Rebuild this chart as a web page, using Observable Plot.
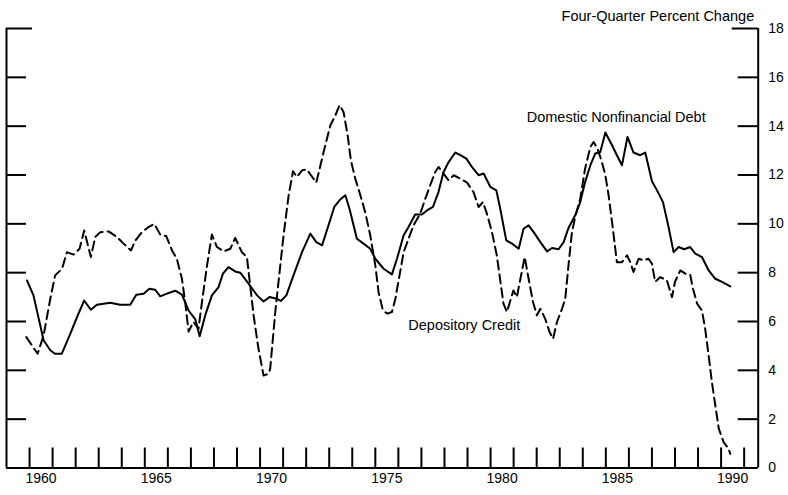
<!DOCTYPE html>
<html><head><meta charset="utf-8">
<script src="https://cdn.jsdelivr.net/npm/d3@7"></script>
<script src="https://cdn.jsdelivr.net/npm/@observablehq/plot@0.6"></script>
<style>html,body{margin:0;padding:0;background:#fff} svg{display:block}</style>
</head><body><div id="chart"></div>
<script>
// Domestic Nonfinancial Debt (solid) — four-quarter percent change
const debtYears = [1959.89,1960.17,1960.61,1960.90,1961.10,1961.40,1961.77,1962.06,1962.37,1962.66,1962.92,1963.50,1963.93,1964.37,1964.63,1964.95,1965.20,1965.45,1965.67,1965.96,1966.32,1966.61,1966.90,1967.19,1967.38,1967.62,1967.91,1968.20,1968.39,1968.63,1968.92,1969.14,1969.50,1969.87,1970.15,1970.41,1970.73,1970.90,1971.14,1971.45,1971.82,1972.18,1972.44,1972.69,1972.97,1973.22,1973.48,1973.70,1973.88,1974.20,1974.49,1974.78,1975.00,1975.36,1975.72,1975.94,1976.23,1976.44,1976.73,1977.02,1977.24,1977.50,1977.74,1977.96,1978.18,1978.47,1978.69,1978.95,1979.19,1979.48,1979.70,1979.99,1980.25,1980.42,1980.68,1980.93,1981.22,1981.43,1981.65,1981.87,1982.16,1982.45,1982.67,1982.95,1983.17,1983.38,1983.67,1983.89,1984.10,1984.33,1984.54,1984.76,1984.98,1985.27,1985.48,1985.70,1985.94,1986.20,1986.49,1986.71,1987.00,1987.22,1987.48,1987.72,1987.94,1988.16,1988.40,1988.66,1988.88,1989.17,1989.46,1989.75,1990.04,1990.40];
const debtValues = [7.68,7.07,5.23,4.82,4.68,4.68,5.50,6.18,6.86,6.48,6.69,6.77,6.69,6.69,7.10,7.14,7.34,7.30,7.03,7.14,7.26,7.10,6.45,6.09,5.40,6.25,7.07,7.41,7.96,8.23,8.05,8.00,7.55,7.07,6.82,7.00,6.93,6.84,7.07,7.89,8.84,9.60,9.25,9.12,9.94,10.69,11.00,11.17,10.62,9.39,9.19,8.98,8.57,8.16,7.93,8.57,9.53,9.87,10.38,10.38,10.55,10.69,11.30,12.12,12.53,12.92,12.81,12.67,12.33,11.99,12.06,11.51,11.37,10.62,9.32,9.19,8.98,9.80,9.94,9.66,9.25,8.87,9.01,8.96,9.25,9.83,10.35,10.89,11.71,12.40,12.88,12.94,13.74,13.22,12.81,12.40,13.56,12.92,12.81,12.92,11.74,11.37,10.89,9.87,8.84,9.05,8.96,9.05,8.78,8.64,8.09,7.75,7.62,7.44];

// Depository Credit (dashed)
const creditYears = [1959.86,1960.35,1960.61,1960.90,1961.11,1961.41,1961.62,1961.91,1962.17,1962.37,1962.66,1962.85,1963.07,1963.43,1963.79,1964.08,1964.40,1964.59,1964.88,1965.16,1965.41,1965.67,1965.93,1966.18,1966.39,1966.61,1966.75,1966.90,1967.11,1967.33,1967.48,1967.70,1967.91,1968.13,1968.42,1968.71,1968.92,1969.21,1969.43,1969.57,1969.72,1969.93,1970.15,1970.37,1970.44,1970.66,1970.80,1971.02,1971.24,1971.43,1971.60,1971.82,1972.03,1972.21,1972.44,1972.62,1972.83,1973.05,1973.27,1973.45,1973.62,1973.80,1973.94,1974.13,1974.35,1974.56,1974.78,1975.00,1975.14,1975.33,1975.53,1975.72,1975.87,1976.05,1976.23,1976.44,1976.66,1976.95,1977.17,1977.38,1977.60,1977.74,1977.96,1978.18,1978.40,1978.69,1978.98,1979.26,1979.48,1979.67,1979.84,1980.06,1980.27,1980.45,1980.56,1980.71,1980.88,1980.99,1981.14,1981.28,1981.48,1981.65,1981.84,1982.01,1982.16,1982.37,1982.56,1982.71,1982.88,1983.10,1983.24,1983.38,1983.53,1983.67,1983.89,1984.10,1984.33,1984.47,1984.64,1984.83,1984.98,1985.12,1985.27,1985.41,1985.48,1985.70,1985.92,1986.06,1986.20,1986.42,1986.64,1986.85,1987.00,1987.14,1987.36,1987.65,1987.87,1988.00,1988.23,1988.45,1988.66,1988.78,1988.96,1989.17,1989.31,1989.46,1989.60,1989.75,1989.90,1990.11,1990.32,1990.40];
const creditValues = [5.36,4.68,5.43,6.93,7.89,8.16,8.84,8.74,8.98,9.73,8.64,9.46,9.66,9.69,9.46,9.19,8.91,9.32,9.66,9.87,10.00,9.56,9.50,8.91,8.57,7.75,6.80,5.59,5.98,5.70,6.80,8.30,9.56,9.05,8.87,8.98,9.42,8.84,8.64,7.48,6.25,4.89,3.79,3.86,4.07,6.39,7.62,9.53,11.17,12.15,11.92,12.19,12.23,11.99,11.69,12.40,13.22,14.04,14.45,14.86,14.58,13.63,12.60,11.85,11.17,10.48,9.53,8.30,7.20,6.45,6.32,6.39,6.93,7.89,8.84,9.39,9.94,10.42,11.03,11.58,12.12,12.33,12.06,11.78,11.99,11.85,11.69,11.30,10.69,10.89,10.42,9.66,8.71,7.48,6.73,6.39,6.93,7.27,7.00,7.68,8.64,7.75,6.80,6.25,6.52,6.11,5.57,5.29,5.98,6.52,6.93,8.30,9.66,10.28,11.03,12.26,13.15,13.35,13.08,12.53,11.99,11.17,10.07,8.98,8.43,8.43,8.71,8.43,8.03,8.57,8.50,8.57,8.37,7.62,7.82,7.68,7.00,7.62,8.09,7.96,7.92,7.34,6.73,6.45,5.70,4.61,3.52,2.56,1.61,1.06,0.79,0.58];

const yTicks = [0,2,4,6,8,10,12,14,16,18];
const yearTicks = [1960,1961,1962,1963,1964,1965,1966,1967,1968,1969,1970,1971,1972,1973,1974,1975,1976,1977,1978,1979,1980,1981,1982,1983,1984,1985,1986,1987,1988,1989,1990,1991];
const yearLabels = [1960,1965,1970,1975,1980,1985,1990];
const titleText = "Four-Quarter Percent Change";
const debtLabel = "Domestic Nonfinancial Debt";
const creditLabel = "Depository Credit";

const W = 788, H = 495;
const mL = 6, mR = 30.3, mT = 28, mB = 27.5;
const innerW = W - mL - mR, innerH = H - mT - mB;
const xMin = 1959, xMax = 1991.61;

const debt = debtYears.map((x, i) => ({x, y: debtValues[i]}));
const credit = creditYears.map((x, i) => ({x, y: creditValues[i]}));

const font = "Liberation Sans, Arial, Helvetica, sans-serif";

const chart = Plot.plot({
  width: W, height: H,
  marginLeft: mL, marginRight: mR, marginTop: mT, marginBottom: mB,
  style: {fontFamily: font, background: "#fff", color: "#000"},
  x: {domain: [xMin, xMax], axis: null},
  y: {domain: [0, 18], axis: null},
  marks: [
    // axis lines
    Plot.ruleX([xMin, xMax], {stroke: "#000", strokeWidth: 2}),
    Plot.ruleY([0], {stroke: "#000", strokeWidth: 2}),
    // left ticks (inward)
    Plot.tickY(yTicks.filter(v => v > 0 && v < 18), {y: d => d, stroke: "#000", strokeWidth: 2, insetRight: innerW - 20}),
    Plot.tickY([18], {y: d => d, stroke: "#000", strokeWidth: 2, insetRight: innerW - 26}),
    // right ticks (inward)
    Plot.tickY(yTicks.filter(v => v > 0 && v < 18), {y: d => d, stroke: "#000", strokeWidth: 2, insetLeft: innerW - 20}),
    Plot.tickY([18], {y: d => d, stroke: "#000", strokeWidth: 2, insetLeft: innerW - 26}),
    // bottom ticks (inward)
    Plot.tickX(yearTicks, {x: d => d, stroke: "#000", strokeWidth: 2, insetTop: innerH - 20}),
    // right tick labels
    Plot.text(yTicks, {x: xMax, y: d => d, text: d => String(d), dx: 10, textAnchor: "start", fontSize: 14, fill: "#000"}),
    // bottom labels (centered in the year)
    Plot.text(yearLabels, {x: d => d + 0.5, frameAnchor: "bottom", dy: 15, text: d => String(d), fontSize: 14, fill: "#000"}),
    // series
    Plot.line(credit, {x: "x", y: "y", stroke: "#000", strokeWidth: 2, strokeDasharray: "9,5"}),
    Plot.line(debt, {x: "x", y: "y", stroke: "#000", strokeWidth: 2}),
    // annotations
    Plot.text([debtLabel], {x: 1985.45, y: 14.36, text: d => d, fontSize: 14.5, fill: "#000"}),
    Plot.text([creditLabel], {x: 1978.86, y: 5.84, text: d => d, fontSize: 14.5, fill: "#000"}),
    // title
    Plot.text([titleText], {frameAnchor: "top-right", dy: -18, dx: -4, textAnchor: "end", text: d => d, fontSize: 14.5, fill: "#000"})
  ]
});
document.getElementById("chart").appendChild(chart);
</script>
</body></html>
